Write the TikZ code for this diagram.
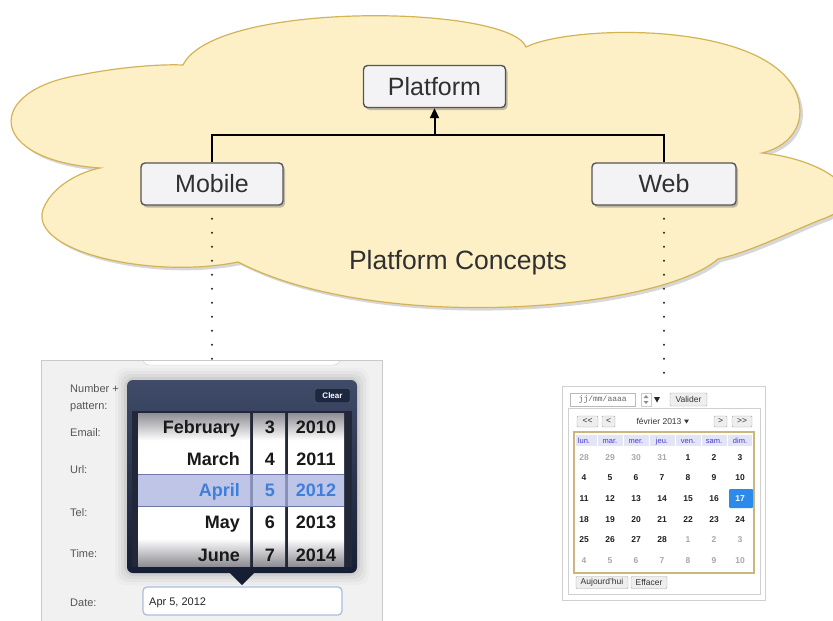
\documentclass[tikz,border=0pt]{standalone}
\usepackage{fontspec}
\setmainfont{Liberation Sans}
\setmonofont{Liberation Mono}
\usetikzlibrary{arrows.meta,shadows,calc}
\definecolor{cloudfill}{HTML}{FDF0C7}
\definecolor{cloudline}{HTML}{D4B355}
\definecolor{nodefill}{HTML}{F3F3F5}
\definecolor{nodeline}{HTML}{555555}
\definecolor{txt}{HTML}{303030}
\definecolor{navy}{HTML}{161E33}
\definecolor{navytop}{HTML}{3F4B68}
\definecolor{wheelgray}{HTML}{8E8E94}
\definecolor{wheelframe}{HTML}{222838}
\definecolor{band}{HTML}{AAB2E0}
\definecolor{bandline}{HTML}{6E77A6}
\definecolor{selblue}{HTML}{3F7FD9}
\definecolor{mobbg}{HTML}{F1F1F1}
\definecolor{mobline}{HTML}{C9C9C9}
\definecolor{lblgray}{HTML}{555555}
\definecolor{fieldblue}{HTML}{A8BFDB}
\definecolor{clearfill}{HTML}{1E2740}
\definecolor{clearline}{HTML}{56607A}
\definecolor{calgold}{HTML}{CDB57E}
\definecolor{calhead}{HTML}{E4E4F7}
\definecolor{calheadtxt}{HTML}{3C3CC8}
\definecolor{calk}{HTML}{202020}
\definecolor{calg}{HTML}{A8A8A8}
\definecolor{calw}{HTML}{FFFFFF}
\definecolor{calsel}{HTML}{2C8BEA}
\definecolor{btnfill}{HTML}{EEEEEE}
\definecolor{btnline}{HTML}{A8A8A8}
\definecolor{webline}{HTML}{D0D0D0}
\pgfdeclareverticalshading{wheel}{100bp}{color(0bp)=(wheelgray); color(25bp)=(wheelgray); color(34bp)=(white); color(66bp)=(white); color(75bp)=(wheelgray); color(100bp)=(wheelgray)}
\tikzset{
  concept/.style={draw=nodeline, line width=1.4pt, fill=nodefill, rounded corners=4pt,
    minimum width=142pt, minimum height=42pt, inner sep=0pt,
    font=\fontsize{25}{30}\selectfont, text=txt,
    drop shadow={shadow xshift=2pt, shadow yshift=-2.5pt, opacity=0.4, fill=black!60}},
  link/.style={line width=2pt, black},
  dotline/.style={line width=2.2pt, line cap=round, dash pattern=on 0pt off 14pt, dash phase=1pt, black!85},
  lbl/.style={anchor=base west, inner sep=0pt, text=lblgray, font=\fontsize{11}{12}\selectfont},
  wheeltxt/.style={inner sep=0pt, font=\bfseries\fontsize{18}{20}\selectfont},
  btn/.style={draw=btnline, fill=btnfill, rounded corners=1pt, inner sep=0pt, font=\fontsize{8.5}{9}\selectfont, text=black!80},
  calnum/.style={inner sep=0pt, anchor=base, font=\bfseries\fontsize{8.5}{9}\selectfont},
  calhd/.style={inner sep=0pt, anchor=base, text=calheadtxt, font=\fontsize{7.5}{8}\selectfont},
}
\begin{document}
\begin{tikzpicture}[x=1pt,y=-1pt]
\useasboundingbox (0,0) rectangle (833,621);
\clip (0,0) rectangle (833,621);

% ---------- cloud ----------
\draw[cloudline, line width=1.2pt, fill=cloudfill,
      drop shadow={shadow xshift=3pt, shadow yshift=-3pt, opacity=0.35, fill=black!45}]
 (183,65) .. controls (215,0) and (510,5) .. (526,47)
 .. controls (570,25) and (760,20) .. (795,90)
 .. controls (808,118) and (795,145) .. (762,153)
 .. controls (830,160) and (880,200) .. (820,220)
 .. controls (790,232) and (750,252) .. (718,259)
 .. controls (660,310) and (380,335) .. (238,262)
 .. controls (150,280) and (20,250) .. (45,205)
 .. controls (55,185) and (80,172) .. (100,168)
 .. controls (-15,160) and (-15,90) .. (80,75)
 .. controls (120,67) and (160,64) .. (183,65)
 -- cycle;
\node[font=\fontsize{26.5}{30}\selectfont, text=txt] (concepts) at (458,263) {Platform Concepts};

% ---------- concept nodes ----------
\node[concept] (platform) at (434.5,86.5) {Platform};
\node[concept] (mobile) at (212,184) {Mobile};
\node[concept, minimum width=144pt] (web) at (664,184) {Web};
\coordinate (join) at ($(platform.south)+(0,27)$);
\draw[link] (mobile.north) |- (join) -| (web.north);
\draw[link, -{Triangle[length=10pt,width=9pt]}] (join) -- (platform.south);

\coordinate (mobend) at (212,359);
\coordinate (webend) at (664,384);
\draw[dotline] (mobile.south) -- (mobend);
\draw[dotline] (web.south) -- (webend);

% ---------- mobile screenshot ----------
\begin{scope}
\clip (41,360) rectangle (382,630);
\fill[mobbg] (41,360) rectangle (382,630);
\draw[fill=white, draw=mobline, rounded corners=6pt] (143,330) rectangle (340,365);
\node[lbl] (lnum) at (70,392) {Number +};
\node[lbl] (lpat) at (70,409) {pattern:};
\node[lbl] (lmail) at (70,436) {Email:};
\node[lbl] (lurl) at (70,473) {Url:};
\node[lbl] (ltel) at (70,516) {Tel:};
\node[lbl] (ltime) at (70,557) {Time:};
\node[lbl] (ldate) at (70,606) {Date:};
\foreach \e/\o in {12/0.02, 9/0.03, 6/0.04, 3/0.05} {
  \fill[black, opacity=\o, rounded corners=10pt] (127-\e,380-\e) rectangle (357+\e,573+\e);
}
\end{scope}
\draw[mobline, line width=1pt] (41,630) |- (382,360) -- (382,630);

% popup
\shade[top color=navytop, bottom color=navy, rounded corners=6pt] (127,380) rectangle (357,573);
\fill[navy] (229,572) -- (255,572) -- (242,585) -- cycle;
\node[draw=clearline, fill=clearfill, rounded corners=2pt, text=white,
      font=\bfseries\fontsize{8}{9}\selectfont, minimum width=35pt, minimum height=14pt, inner sep=0pt]
      (clear) at (332.5,395.5) {Clear};
\fill[wheelframe] (132,411) rectangle (352,567);
\shade[shading=wheel] (138,413) rectangle (250,566);
\shade[shading=wheel] (253,413) rectangle (285,566);
\shade[shading=wheel] (288,413) rectangle (344,566);
\fill[band, opacity=0.75] (138,474) rectangle (344,506);
\draw[bandline, line width=1pt] (138,474) -- (344,474) (138,506) -- (344,506);
\begin{scope}
\clip (132,413) rectangle (352,566);
\foreach \m/\d/\yr/\yy [count=\i] in {February/3/2010/433.5, March/4/2011/465.5, April/5/2012/496.5, May/6/2013/528.5, June/7/2014/561.5} {
  \ifnum\i=3 \def\wc{selblue}\else\def\wc{black!90}\fi
  \node[wheeltxt, anchor=base east, text=\wc] (mo\i) at (240,\yy) {\m};
  \node[wheeltxt, anchor=base, text=\wc] (da\i) at (270,\yy) {\d};
  \node[wheeltxt, anchor=base, text=\wc] (ye\i) at (316,\yy) {\yr};
}
\end{scope}
\node[draw=fieldblue, line width=1.3pt, fill=white, rounded corners=4pt,
      minimum width=199pt, minimum height=28pt, inner sep=0pt] (datefield) at (242.5,601) {};
\node[anchor=base west, inner sep=0pt, text=black!85, font=\fontsize{11}{12}\selectfont] (datetxt) at (149,605) {Apr 5, 2012};

% ---------- web screenshot ----------
\draw[webline, fill=white, line width=1pt] (562,386) rectangle (765,600);
\node[draw=btnline!80, fill=white, minimum width=65pt, minimum height=13pt, inner sep=0pt,
      anchor=west, text=black!60, font=\ttfamily\fontsize{8}{9}\selectfont] (inp) at (570,399.5) {jj/mm/aaaa\hspace{14pt}};
\node[draw=btnline!60, fill=white, minimum width=10pt, minimum height=13pt, inner sep=0pt] (spin) at (646,399.5) {};
\fill[black!45] (643.5,398) -- (648.5,398) -- (646,395) -- cycle;
\fill[black!45] (643.5,401) -- (648.5,401) -- (646,404) -- cycle;
\fill[black!85] (654,397) -- (660,397) -- (657,402.5) -- cycle;
\node[btn, minimum width=37pt, minimum height=13pt] (valider) at (688.5,399.5) {Valider};
\draw[webline, line width=0.8pt] (568,408) rectangle (760,594);
\node[btn, minimum width=21pt, minimum height=11pt] (bb) at (587.5,421.5) {{<}{<}};
\node[btn, minimum width=13pt, minimum height=11pt] (b) at (608.5,421.5) {<};
\node[inner sep=0pt, font=\fontsize{8.5}{9}\selectfont, text=black!80] (month) at (659,421.5) {février 2013};
\fill[black!80] (684,419.5) -- (689,419.5) -- (686.5,423.5) -- cycle;
\node[btn, minimum width=13pt, minimum height=11pt] (f) at (720.5,421.5) {>};
\node[btn, minimum width=20pt, minimum height=11pt] (ff) at (742,421.5) {{>}{>}};
\draw[calgold, line width=1.2pt, fill=white] (574,432) rectangle (754,573);
\fill[calhead] (576,434.5) rectangle (752,446);
\foreach \k in {1,...,6} { \draw[white, line width=1pt] (571+26*\k,434.5) -- (571+26*\k,446); }
\foreach \h [count=\k] in {lun.,mar.,mer.,jeu.,ven.,sam.,dim.} {
  \node[calhd] (hd\k) at (584+26*\k-26,443) {\h};
}
\fill[calsel, rounded corners=1pt] (729,489) rectangle (753,508);
\foreach \row [count=\r] in {
  {28/g,29/g,30/g,31/g,1/k,2/k,3/k},
  {4/k,5/k,6/k,7/k,8/k,9/k,10/k},
  {11/k,12/k,13/k,14/k,15/k,16/k,17/w},
  {18/k,19/k,20/k,21/k,22/k,23/k,24/k},
  {25/k,26/k,27/k,28/k,1/g,2/g,3/g},
  {4/g,5/g,6/g,7/g,8/g,9/g,10/g}} {
  \foreach \d/\c [count=\k] in \row {
    \node[calnum, text=cal\c] (c\r-\k) at (584+26*\k-26, 460.2+20.6*\r-20.6) {\d};
  }
}
\node[btn, minimum width=52pt, minimum height=12pt] (today) at (602,582.5) {Aujourd'hui};
\node[btn, minimum width=36pt, minimum height=12pt] (clearbtn) at (649,582.5) {Effacer};
\end{tikzpicture}
\end{document}
